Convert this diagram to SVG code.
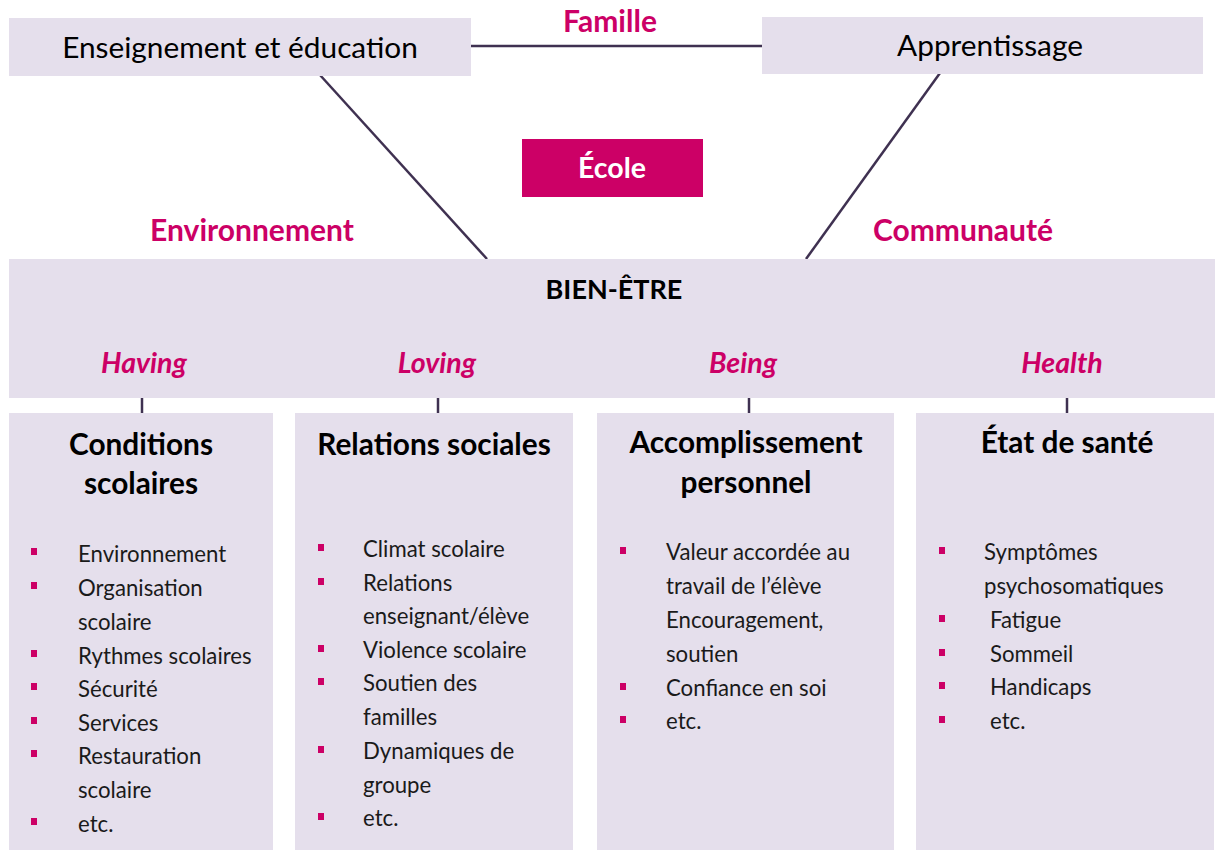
<svg xmlns="http://www.w3.org/2000/svg" width="1215" height="850" viewBox="0 0 1215 850">
<style>
.box{fill:#e5dfec}
.t{font-family:Lato,"Liberation Sans",sans-serif;fill:#000}
.top{font-size:29.8px}
.mag{font-family:Lato,"Liberation Sans",sans-serif;fill:#cc0066;font-weight:bold;font-size:30px}
.it{font-style:italic;font-size:28.6px}
.h{font-weight:bold;font-size:29.8px}
.bw{font-weight:bold;font-size:27px}
.li{font-size:22.2px;fill:#1a1a1a}
.b{fill:#cc0066}
.c{stroke:#3f3151;stroke-width:2.5;fill:none}
</style>
<g id="connectors">
<line class="c" x1="471" y1="46" x2="762" y2="46" stroke-width="3"/>
<line class="c" x1="320" y1="75" x2="487" y2="259"/>
<line class="c" x1="940" y1="73" x2="806" y2="259"/>
<line class="c" x1="142" y1="398" x2="142" y2="413"/>
<line class="c" x1="438" y1="398" x2="438" y2="413"/>
<line class="c" x1="749" y1="398" x2="749" y2="413"/>
<line class="c" x1="1067" y1="398" x2="1067" y2="413"/>
</g>
<g id="enseignement">
<rect class="box" x="9" y="18" width="462" height="58"/>
<text class="t top" x="240" y="58" text-anchor="middle">Enseignement et éducation</text>
</g>
<g id="apprentissage">
<rect class="box" x="762" y="17" width="441" height="57"/>
<text class="t top" x="990" y="56" text-anchor="middle">Apprentissage</text>
</g>
<g id="famille"><text class="mag" x="610" y="32" text-anchor="middle">Famille</text></g>
<g id="ecole">
<rect x="522" y="139" width="181" height="58" fill="#cc0066"/>
<text x="612" y="178" text-anchor="middle" font-family="Lato, 'Liberation Sans', sans-serif" font-size="28.5" font-weight="bold" fill="#fff">École</text>
</g>
<g id="environnement"><text class="mag" x="252" y="241" text-anchor="middle">Environnement</text></g>
<g id="communaute"><text class="mag" x="963" y="241" text-anchor="middle">Communauté</text></g>
<g id="bienetre">
<rect class="box" x="9" y="259" width="1206" height="139"/>
<text class="t bw" x="614" y="299" text-anchor="middle">BIEN-ÊTRE</text>
<text class="mag it" x="144" y="373" text-anchor="middle">Having</text>
<text class="mag it" x="437" y="373" text-anchor="middle">Loving</text>
<text class="mag it" x="743" y="373" text-anchor="middle">Being</text>
<text class="mag it" x="1062" y="373" text-anchor="middle">Health</text>
</g>
<g id="conditions">
<rect class="box" x="9" y="413" width="264" height="437"/>
<text class="t h" x="141" y="455" text-anchor="middle">Conditions</text>
<text class="t h" x="141" y="494" text-anchor="middle">scolaires</text>
<rect class="b" x="31" y="548" width="6" height="7"/>
<rect class="b" x="31" y="582" width="6" height="7"/>
<rect class="b" x="31" y="650" width="6" height="7"/>
<rect class="b" x="31" y="683" width="6" height="7"/>
<rect class="b" x="31" y="717" width="6" height="7"/>
<rect class="b" x="31" y="750" width="6" height="7"/>
<rect class="b" x="31" y="818" width="6" height="7"/>
<text class="t li" x="78" y="562">Environnement</text>
<text class="t li" x="78" y="596">Organisation</text>
<text class="t li" x="78" y="630">scolaire</text>
<text class="t li" x="78" y="664">Rythmes scolaires</text>
<text class="t li" x="78" y="697">Sécurité</text>
<text class="t li" x="78" y="731">Services</text>
<text class="t li" x="78" y="764">Restauration</text>
<text class="t li" x="78" y="798">scolaire</text>
<text class="t li" x="78" y="832">etc.</text>
</g>
<g id="relations">
<rect class="box" x="295" y="413" width="278" height="437"/>
<text class="t h" x="434" y="455" text-anchor="middle">Relations sociales</text>
<rect class="b" x="318" y="544" width="6" height="7"/>
<rect class="b" x="318" y="578" width="6" height="7"/>
<rect class="b" x="318" y="645" width="6" height="7"/>
<rect class="b" x="318" y="678" width="6" height="7"/>
<rect class="b" x="318" y="746" width="6" height="7"/>
<rect class="b" x="318" y="813" width="6" height="7"/>
<text class="t li" x="363" y="557">Climat scolaire</text>
<text class="t li" x="363" y="591">Relations</text>
<text class="t li" x="363" y="624">enseignant/élève</text>
<text class="t li" x="363" y="658">Violence scolaire</text>
<text class="t li" x="363" y="691">Soutien des</text>
<text class="t li" x="363" y="725">familles</text>
<text class="t li" x="363" y="759">Dynamiques de</text>
<text class="t li" x="363" y="793">groupe</text>
<text class="t li" x="363" y="826">etc.</text>
</g>
<g id="accomplissement">
<rect class="box" x="597" y="413" width="297" height="437"/>
<text class="t h" x="746" y="453" text-anchor="middle">Accomplissement</text>
<text class="t h" x="746" y="493" text-anchor="middle">personnel</text>
<rect class="b" x="620" y="547" width="6" height="7"/>
<rect class="b" x="620" y="683" width="6" height="7"/>
<rect class="b" x="620" y="716" width="6" height="7"/>
<text class="t li" x="666" y="560">Valeur accordée au</text>
<text class="t li" x="666" y="594">travail de l’élève</text>
<text class="t li" x="666" y="628">Encouragement,</text>
<text class="t li" x="666" y="662">soutien</text>
<text class="t li" x="666" y="696">Confiance en soi</text>
<text class="t li" x="666" y="729">etc.</text>
</g>
<g id="sante">
<rect class="box" x="916" y="413" width="298" height="437"/>
<text class="t h" x="1067" y="453" text-anchor="middle">État de santé</text>
<rect class="b" x="939" y="547" width="6" height="7"/>
<rect class="b" x="939" y="615" width="6" height="7"/>
<rect class="b" x="939" y="649" width="6" height="7"/>
<rect class="b" x="939" y="682" width="6" height="7"/>
<rect class="b" x="939" y="716" width="6" height="7"/>
<text class="t li" x="984" y="560">Symptômes</text>
<text class="t li" x="984" y="594">psychosomatiques</text>
<text class="t li" x="990" y="628">Fatigue</text>
<text class="t li" x="990" y="662">Sommeil</text>
<text class="t li" x="990" y="695">Handicaps</text>
<text class="t li" x="990" y="729">etc.</text>
</g>
</svg>
